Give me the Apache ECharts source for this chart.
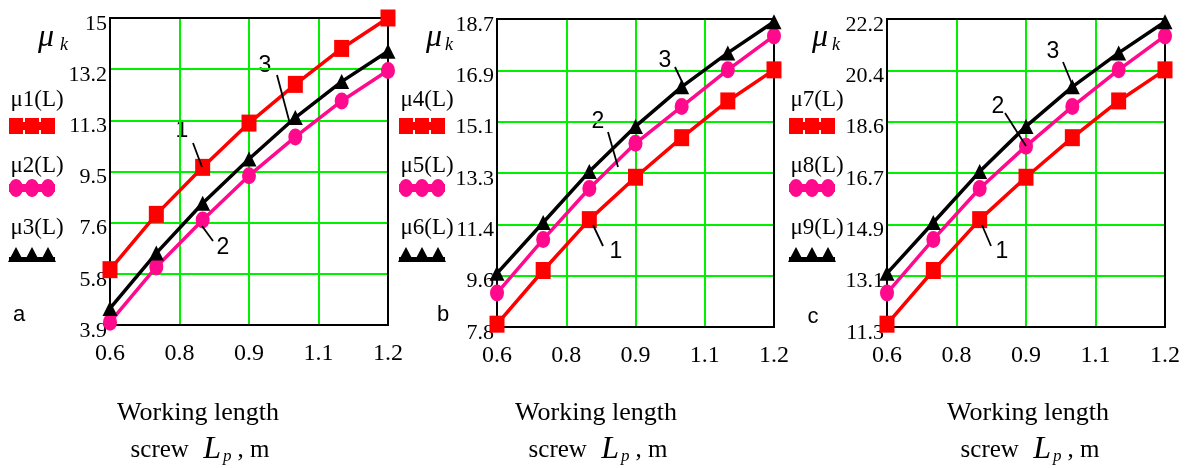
<!DOCTYPE html>
<html>
<head>
<meta charset="utf-8">
<script src="https://cdn.jsdelivr.net/npm/echarts@6/dist/echarts.min.js"></script>
<style>
  html, body { margin: 0; padding: 0; background: #fff; }
  #chart { width: 1189px; height: 468px; }
</style>
</head>
<body>
<div id="chart"></div>
<script>
// working length of the screw, m
const lengths = [0.6, 0.7, 0.8, 0.9, 1.0, 1.1, 1.2];
const xTickLabels = ['0.6', '0.8', '0.9', '1.1', '1.2'];

// panel a
const mu1 = [5.9, 7.9, 9.6, 11.2, 12.6, 13.9, 15.0];
const mu2 = [4.0, 6.0, 7.7, 9.3, 10.7, 12.0, 13.1];
const mu3 = [4.5, 6.5, 8.3, 9.9, 11.4, 12.7, 13.8];
const yTicksA = ['3.9', '5.8', '7.6', '9.5', '11.3', '13.2', '15'];

// panel b
const mu4 = [7.9, 9.8, 11.6, 13.1, 14.5, 15.8, 16.9];
const mu5 = [9.0, 10.9, 12.7, 14.3, 15.6, 16.9, 18.1];
const mu6 = [9.7, 11.5, 13.3, 14.9, 16.3, 17.5, 18.6];
const yTicksB = ['7.8', '9.6', '11.4', '13.3', '15.1', '16.9', '18.7'];

// panel c
const mu7 = [11.4, 13.3, 15.1, 16.6, 18.0, 19.3, 20.4];
const mu8 = [12.5, 14.4, 16.2, 17.7, 19.1, 20.4, 21.6];
const mu9 = [13.2, 15.0, 16.8, 18.4, 19.8, 21.0, 22.1];
const yTicksC = ['11.3', '13.1', '14.9', '16.7', '18.6', '20.4', '22.2'];

const SERIF = '"Liberation Serif", "Times New Roman", serif';
const SANS = '"Liberation Sans", Arial, sans-serif';

const kinds = {
  square:   { color: '#ff0000', symbol: 'rect', size: [15, 17] },
  circle:   { color: '#ff0a8c', symbol: 'circle', size: [14, 17] },
  triangle: { color: '#000000', symbol: 'triangle', size: [15, 15] }
};

const panels = [
  {
    grid: { left: 110, top: 18, width: 278, height: 307 },
    yMin: 3.9, yMax: 15, yTicks: yTicksA,
    lines: [['μ1(L)', mu1, 'square'], ['μ2(L)', mu2, 'circle'], ['μ3(L)', mu3, 'triangle']],
    legendX: 7, muX: 46, kX: 64, letter: 'a', letterPos: [19, 315], titleX: 198,
    notes: [
      { t: '1', at: [182, 131], line: [193, 143, 202, 167] },
      { t: '3', at: [265, 66], line: [277, 75, 290, 124] },
      { t: '2', at: [223, 248], line: [213, 241, 202, 226] }
    ]
  },
  {
    grid: { left: 497, top: 19, width: 277, height: 308 },
    yMin: 7.8, yMax: 18.7, yTicks: yTicksB,
    lines: [['μ4(L)', mu4, 'square'], ['μ5(L)', mu5, 'circle'], ['μ6(L)', mu6, 'triangle']],
    legendX: 397, muX: 434, kX: 449, letter: 'b', letterPos: [443, 315], titleX: 596,
    notes: [
      { t: '3', at: [665, 61], line: [675, 67, 684, 86] },
      { t: '2', at: [598, 122], line: [608, 132, 618, 167] },
      { t: '1', at: [616, 252], line: [603, 246, 593, 225] }
    ]
  },
  {
    grid: { left: 887, top: 19, width: 278, height: 308 },
    yMin: 11.3, yMax: 22.2, yTicks: yTicksC,
    lines: [['μ7(L)', mu7, 'square'], ['μ8(L)', mu8, 'circle'], ['μ9(L)', mu9, 'triangle']],
    legendX: 787, muX: 820, kX: 836, letter: 'c', letterPos: [813, 317], titleX: 1028,
    notes: [
      { t: '3', at: [1053, 52], line: [1063, 62, 1072, 84] },
      { t: '2', at: [998, 107], line: [1005, 113, 1026, 146] },
      { t: '1', at: [1002, 252], line: [991, 246, 982, 225] }
    ]
  }
];

// small line-with-markers sample used in the left legends
function legendSample(kind, ox, cy) {
  const k = kinds[kind];
  const els = [];
  const centers = [ox + 9, ox + 25, ox + 41];
  if (kind === 'triangle') {
    els.push({ type: 'rect', shape: { x: ox + 2, y: cy + 2, width: 46, height: 5 }, style: { fill: k.color } });
  } else {
    els.push({ type: 'rect', shape: { x: ox + 2, y: cy - 4, width: 46, height: 8 }, style: { fill: k.color } });
  }
  centers.forEach(c => {
    if (kind === 'square') {
      els.push({ type: 'rect', shape: { x: c - 7, y: cy - 8, width: 14, height: 16 }, style: { fill: k.color } });
    } else if (kind === 'circle') {
      els.push({ type: 'ellipse', shape: { cx: c, cy: cy, rx: 7, ry: 9 }, style: { fill: k.color } });
    } else {
      els.push({ type: 'polygon', shape: { points: [[c, cy - 8], [c - 8, cy + 7], [c + 8, cy + 7]] }, style: { fill: k.color } });
    }
  });
  return els;
}

function centeredText(text, x, y, font, size, italic) {
  return {
    type: 'text', x: x, y: y,
    style: {
      text: text, fill: '#000', fontFamily: font, fontSize: size,
      fontStyle: italic ? 'italic' : 'normal',
      align: 'center', verticalAlign: 'middle'
    }
  };
}

const grids = [], xAxes = [], yAxes = [], series = [], graphics = [];

panels.forEach((p, i) => {
  grids.push(Object.assign({ show: true, borderColor: '#000', borderWidth: 2, backgroundColor: 'transparent', z: 3 }, p.grid));

  // data axes (hidden) carry the real values
  xAxes.push({ gridIndex: i, type: 'value', min: 0.6, max: 1.2, show: false, position: 'top' });
  yAxes.push({ gridIndex: i, type: 'value', min: p.yMin, max: p.yMax, show: false, position: 'right' });

  // tick axes draw the grid lines and the Mathcad-style labels
  xAxes.push({
    gridIndex: i, type: 'value', min: 0, max: 4, interval: 1, position: 'bottom',
    axisLine: { show: false }, axisTick: { show: false },
    splitLine: { show: true, showMinLine: false, showMaxLine: false, lineStyle: { color: '#00f000', width: 2 } },
    axisLabel: { margin: 17, color: '#000', fontFamily: SERIF, fontSize: 24, formatter: v => xTickLabels[v] }
  });
  yAxes.push({
    gridIndex: i, type: 'value', min: 0, max: 6, interval: 1, position: 'left',
    axisLine: { show: false }, axisTick: { show: false },
    splitLine: { show: true, showMinLine: false, showMaxLine: false, lineStyle: { color: '#00f000', width: 2 } },
    axisLabel: {
      margin: 3, color: '#000', fontFamily: SERIF, fontSize: 22,
      verticalAlign: 'top', lineHeight: 12, formatter: v => p.yTicks[v]
    }
  });

  p.lines.forEach(([name, values, kind]) => {
    const k = kinds[kind];
    series.push({
      name: name, type: 'line', xAxisIndex: 2 * i, yAxisIndex: 2 * i,
      data: lengths.map((x, j) => [x, values[j]]),
      symbol: k.symbol, symbolSize: k.size, showAllSymbol: true,
      lineStyle: { color: k.color, width: 3.5 },
      itemStyle: { color: k.color },
      z: 4, animation: false
    });
  });

  // legend on the left of the panel
  const textY = [100, 166, 228], sampleY = [126, 188, 255];
  p.lines.forEach(([name, , kind], j) => {
    graphics.push(centeredText(name, p.legendX + 30, textY[j], SERIF, 23, false));
    legendSample(kind, p.legendX, sampleY[j]).forEach(e => graphics.push(e));
  });

  // axis name mu_k
  graphics.push(centeredText('μ', p.muX, 38, SERIF, 32, true));
  graphics.push(centeredText('k', p.kX, 45, SERIF, 18, true));

  // panel letter
  graphics.push(centeredText(p.letter, p.letterPos[0], p.letterPos[1], SANS, 22, false));

  // curve numbers with leaders
  p.notes.forEach(n => {
    graphics.push(centeredText(n.t, n.at[0], n.at[1], SANS, 23, false));
    graphics.push({
      type: 'line', shape: { x1: n.line[0], y1: n.line[1], x2: n.line[2], y2: n.line[3] },
      style: { stroke: '#000', lineWidth: 1.8 }, z: 10
    });
  });

  // x axis title
  graphics.push(centeredText('Working length', p.titleX, 413, SERIF, 26, false));
  graphics.push({
    type: 'text', x: p.titleX + 2, y: 450,
    style: {
      text: '{a|screw }{L|L}{p|p}{a|, m}',
      align: 'center', verticalAlign: 'middle', fill: '#000',
      rich: {
        a: { fontFamily: SERIF, fontSize: 25, fill: '#000' },
        L: { fontFamily: SERIF, fontSize: 32, fontStyle: 'italic', fill: '#000', padding: [0, 2, 0, 8] },
        p: { fontFamily: SERIF, fontSize: 17, fontStyle: 'italic', fill: '#000', padding: [14, 6, 0, 0] }
      }
    }
  });
});

const chart = echarts.init(document.getElementById('chart'), null, { renderer: 'canvas' });
chart.setOption({
  animation: false,
  backgroundColor: '#fff',
  grid: grids,
  xAxis: xAxes,
  yAxis: yAxes,
  series: series,
  graphic: { elements: graphics }
});
</script>
</body>
</html>
